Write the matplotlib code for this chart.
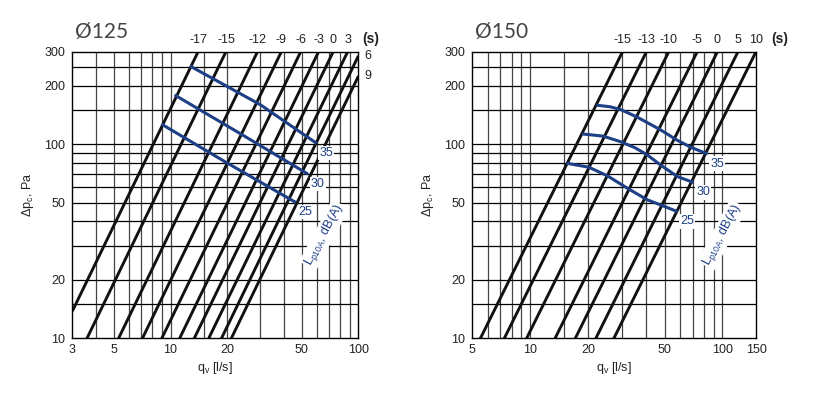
import matplotlib
matplotlib.use("Agg")
import matplotlib.pyplot as plt
import numpy as np

plt.rcParams["font.family"] = ["Liberation Sans", "DejaVu Sans"]

# Left chart (Ø125)
L_TITLE = "Ø125"
L_XLIM = (3, 100)
L_XTICKS = [3, 5, 10, 20, 50, 100]
L_XGRID = [4, 5, 6, 7, 8, 9, 10, 15, 20, 30, 40, 50, 60, 70, 80, 90]
L_Q10 = [2.56, 3.6, 5.3, 7.1, 9.0, 11.2, 13.4, 16.0, 18.7, 21.1]  # q at 10 Pa
L_SET = ["-17", "-15", "-12", "-9", "-6", "-3", "0", "3", "6", "9"]
L_DB = ["35", "30", "25"]
L_DB_Q = [[12.7, 30.0, 59.9], [10.5, 24.0, 54.0], [8.94, 20.0, 46.5]]
L_DB_P = [[253, 160, 101], [179.6, 112, 70], [127, 80, 50]]

# Right chart (Ø150)
R_TITLE = "Ø150"
R_XLIM = (5, 150)
R_XTICKS = [5, 10, 20, 50, 100, 150]
R_XGRID = [6, 7, 8, 9, 10, 15, 20, 30, 40, 50, 60, 70, 80, 90, 100]
R_Q10 = [5.52, 7.35, 9.6, 13.5, 17.2, 22.0, 27.3]
R_SET = ["-15", "-13", "-10", "-5", "0", "5", "10"]
R_DB = ["35", "30", "25"]
R_DB_Q = [[22.1, 26.0, 29.5, 36.0, 47.7, 58.0, 68.4, 83.6],
          [18.6, 24.0, 29.5, 35.0, 40.7, 47.7, 58.3, 70.7],
          [15.4, 20.15, 25.2, 32.0, 40.7, 47.7, 58.3]]
R_DB_P = [[159, 156, 151, 138, 118.5, 105, 96.5, 89],
          [113, 110, 103, 96, 88, 78, 68.1, 63.4],
          [79.8, 76.1, 68.7, 59.3, 51.6, 48.6, 44.9]]

YLIM = (10, 300)
YTICKS = [10, 20, 50, 100, 200, 300]
YGRID = [15, 20, 30, 40, 50, 60, 70, 80, 90, 100, 150, 200, 250]

BLUE = "#1d3f85"
TXT = "#222222"


def draw_chart(ax, title, xlim, xticks, xgrid, q10, settings, db, db_q, db_p, s_off):
    ax.set_xscale("log")
    ax.set_yscale("log")
    ax.set_xlim(*xlim)
    ax.set_ylim(*YLIM)

    for x in xgrid:
        ax.axvline(x, color="#444444", lw=0.9, zorder=1)
    for y in YGRID:
        ax.axhline(y, color="black", lw=0.9, zorder=1)

    # damper setting lines, dp ~ q^2
    qq = np.logspace(np.log10(xlim[0]), np.log10(xlim[1]), 50)
    for q0, lab in zip(q10, settings):
        ax.plot(qq, 10 * (qq / q0) ** 2, color="#111111", lw=2.1,
                solid_capstyle="butt", zorder=3)
        q_top = q0 * np.sqrt(YLIM[1] / 10)
        if q_top <= xlim[1] * 1.001:
            ax.annotate(lab, (q_top, YLIM[1]), xytext=(0, 4),
                        textcoords="offset points", ha="center", va="bottom",
                        fontsize=9, color=TXT, annotation_clip=False)
        else:
            p_right = 10 * (xlim[1] / q0) ** 2
            ax.annotate(lab, (xlim[1], p_right), xytext=(4, 0),
                        textcoords="offset points", ha="left", va="center",
                        fontsize=9, color=TXT, annotation_clip=False)

    # "(s)" after the top labels
    ax.annotate("(s)", (1.0, 1.0), xycoords="axes fraction", xytext=(s_off, 4),
                textcoords="offset points", ha="center", va="bottom",
                fontsize=10, fontweight="bold", color=TXT)

    # sound level curves
    for lab, qs, ps in zip(db, db_q, db_p):
        ax.plot(qs, ps, color=BLUE, lw=2.2, solid_capstyle="butt",
                solid_joinstyle="round", zorder=4)
        ax.annotate(lab, (qs[-1], ps[-1]), xytext=(7, -7),
                    textcoords="offset points", ha="center", va="center",
                    fontsize=9, color=BLUE, zorder=5,
                    bbox=dict(boxstyle="square,pad=0.1", fc="white", ec="none"))

    ax.text(0.88, 0.36, r"L$_\mathregular{p10A}$, dB(A)", transform=ax.transAxes,
            rotation=62, ha="center", va="center", fontsize=9, color=BLUE,
            zorder=5, bbox=dict(boxstyle="square,pad=0.1", fc="white", ec="none"))

    ax.set_xticks(xticks)
    ax.set_xticklabels([str(t) for t in xticks])
    ax.set_yticks(YTICKS)
    ax.set_yticklabels([str(t) for t in YTICKS])
    ax.minorticks_off()
    ax.tick_params(length=0, labelsize=9, labelcolor=TXT, pad=5)
    ax.tick_params(axis="x", pad=4)

    for s in ax.spines.values():
        s.set_color("black")
        s.set_linewidth(1.0)
        s.set_zorder(6)

    ax.set_xlabel(r"q$_\mathregular{v}$ [l/s]", fontsize=9, color=TXT, labelpad=3)
    ax.set_ylabel(r"Δp$_\mathregular{c}$, Pa", fontsize=9, color=TXT, labelpad=6)
    ax.text(0.01, 1.035, title, transform=ax.transAxes, ha="left", va="bottom",
            fontsize=15, color="#444444", family=["Lato", "DejaVu Sans"])


fig = plt.figure(figsize=(8.25, 3.95), dpi=100)
ax1 = fig.add_axes([0.0876, 0.1443, 0.3469, 0.7248])
ax2 = fig.add_axes([0.5725, 0.1443, 0.3442, 0.7248])

draw_chart(ax1, L_TITLE, L_XLIM, L_XTICKS, L_XGRID, L_Q10, L_SET, L_DB, L_DB_Q, L_DB_P, 9)
draw_chart(ax2, R_TITLE, R_XLIM, R_XTICKS, R_XGRID, R_Q10, R_SET, R_DB, R_DB_Q, R_DB_P, 17)

fig.savefig("out.png", dpi=100)
